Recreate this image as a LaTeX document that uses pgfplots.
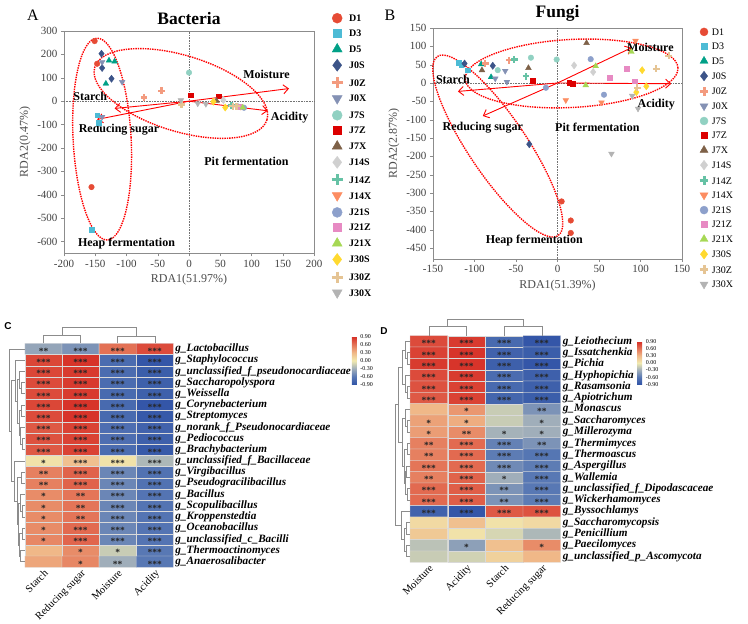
\documentclass[border=0pt]{standalone}
\usepackage{fontspec}
\setmainfont{Liberation Serif}
\newfontfamily\lsans{Liberation Sans}
\usepackage{pgfplots}
\pgfplotsset{compat=1.18}
\usetikzlibrary{shapes.geometric,arrows.meta}

\definecolor{cD1}{HTML}{E64B35}
\definecolor{cD3}{HTML}{4DBBD5}
\definecolor{cD5}{HTML}{00A087}
\definecolor{cJ0S}{HTML}{3C5488}
\definecolor{cJ0Z}{HTML}{F39B7F}
\definecolor{cJ0X}{HTML}{8491B4}
\definecolor{cJ7S}{HTML}{91D1C2}
\definecolor{cJ7Z}{HTML}{DC0000}
\definecolor{cJ7X}{HTML}{7E6148}
\definecolor{cJ14S}{HTML}{D0D0D0}
\definecolor{cJ14Z}{HTML}{66C2A5}
\definecolor{cJ14X}{HTML}{FC8D62}
\definecolor{cJ21S}{HTML}{8DA0CB}
\definecolor{cJ21Z}{HTML}{E78AC3}
\definecolor{cJ21X}{HTML}{A6D854}
\definecolor{cJ30S}{HTML}{FFD92F}
\definecolor{cJ30Z}{HTML}{E5C494}
\definecolor{cJ30X}{HTML}{B3B3B3}

\def\lms{5}
\tikzset{
 ell/.style={draw=red, densely dotted, line width=1.4pt, ellipse, inner sep=0pt},
 ann/.style={font=\bfseries\fontsize{12}{12}\selectfont},
}
\pgfplotsset{
 colormap={hm}{rgb255=(49,84,167) rgb255=(88,120,180) rgb255=(160,174,186) rgb255=(241,234,176) rgb255=(240,184,136) rgb255=(228,117,88) rgb255=(214,47,39)},
 pcirc/.style={only marks, mark=*, mark size=2.8pt, color=#1, legend image post style={mark size={\lms pt}}},
 psq/.style={only marks, mark=square*, mark size=2.4pt, color=#1, legend image post style={mark size={0.8*\lms pt}}},
 ptri/.style={only marks, mark=triangle*, mark size=3.3pt, color=#1, legend image post style={mark size={1.15*\lms pt}}},
 pdtri/.style={only marks, mark=triangle*, mark size=3.3pt, color=#1, mark options={rotate=180}, legend image post style={mark size={1.15*\lms pt}}},
 pdia/.style={only marks, mark=diamond*, mark size=3.6pt, color=#1, legend image post style={mark size={1.2*\lms pt}}},
 pplus/.style={only marks, mark=+, mark size=3.4pt, color=#1, mark options={line width=2.2pt}, legend image post style={mark size={1.1*\lms pt}, mark options={line width=3pt}}},
 rda/.style={scale only axis, clip=false, axis line style={black!45}, tick style={black!45},
   tick align=outside, xtick pos=left, ytick pos=left, major tick length=3pt,
   tick label style={font=\fontsize{11}{11}\selectfont, text=black!75},
   /pgf/number format/assume math mode=true,
   label style={font=\fontsize{12}{12}\selectfont, text=black!70},
   title style={font=\bfseries\fontsize{17.5}{17.5}\selectfont, yshift=-3pt},
   legend cell align=left},
 zl/.style={forget plot, densely dotted, black!55, line width=0.6pt, mark=none},
 arr/.style={forget plot, red, line width=0.9pt, mark=none, -{Straight Barb[length=5pt,width=9pt]}},
 dendro/.style={forget plot, black!45, line width=0.5pt, mark=none},
 hmap/.style={scale only axis, enlargelimits=false, clip=false, xmin=-0.5, xmax=3.5, ymin=-0.5, ymax=19.5, y dir=reverse,
   axis line style={draw=none}, major tick length=0pt, xtick={0,1,2,3}, ytick={0,...,19},
   xticklabel style={rotate=45, anchor=north east, font=\fontsize{10.5}{10.5}\selectfont, inner sep=1pt},
   yticklabel pos=right, yticklabel style={anchor=west, font=\bfseries\itshape\fontsize{11.2}{11.2}\selectfont, inner sep=0pt, xshift=2pt},
   colormap name=hm, point meta min=-0.9, point meta max=0.9},
 cbar/.style={scale only axis, width=5pt, height=#1, ytick={-0.9,-0.6,-0.3,0,0.3,0.6,0.9},
   yticklabel style={font=\fontsize{6}{6}\selectfont, /pgf/number format/.cd, fixed, fixed zerofill, precision=2, assume math mode=true},
   major tick length=0pt, axis line style={draw=none}},
 stars/.style={forget plot, draw=none, mark=none, nodes near coords, point meta=explicit symbolic,
   nodes near coords style={anchor=center, font=\bfseries\fontsize{9.5}{9.5}\selectfont, text=black!85, yshift=-2.2pt, inner sep=0pt}},
}

\begin{document}
\begin{tikzpicture}
\path[use as bounding box] (0pt,0pt) rectangle (748pt,624pt);

% ---------------- Panel A ----------------
\def\lms{5}
\begin{axis}[rda, at={(64pt,593pt)}, anchor=north west, width=250pt, height=222.3pt,
  xmin=-200, xmax=200, ymin=-650, ymax=300,
  xtick={-200,-150,...,200}, ytick={-600,-500,...,300},
  xlabel={RDA1(51.97\%)}, ylabel={RDA2(0.47\%)}, title={Bacteria},
  legend style={at={(1.058,1.09)}, anchor=north west, draw=none, fill=none,
    font=\bfseries\fontsize{10}{10}\selectfont, row sep=6.1pt, column sep=6pt,
    nodes={inner sep=0.5pt, text height=7pt, text depth=0pt}}]
\addplot[zl] coordinates {(0,-650) (0,300)};
\addplot[zl] coordinates {(-200,0) (200,0)};
\addplot[pcirc=cD1] coordinates {(-151,257) (-147,160) (-156,-367)}; \addlegendentry{D1}
\addplot[psq=cD3] coordinates {(-147,-60) (-144,-92) (-156,-550)}; \addlegendentry{D3}
\addplot[ptri=cD5] coordinates {(-128,174) (-119,170) (-133,75)}; \addlegendentry{D5}
\addplot[pdia=cJ0S] coordinates {(-140,203) (-139,142) (-124,96)}; \addlegendentry{J0S}
\addplot[pplus=cJ0Z] coordinates {(-72,16) (-44,44)}; \addlegendentry{J0Z}
\addplot[pdtri=cJ0X] coordinates {(-139,167) (-107,82) (-139,-67)}; \addlegendentry{J0X}
\addplot[pcirc=cJ7S] coordinates {(0,122) (78,-22)}; \addlegendentry{J7S}
\addplot[psq=cJ7Z] coordinates {(3,26) (47,21)}; \addlegendentry{J7Z}
\addplot[ptri=cJ7X] coordinates {(44,2)}; \addlegendentry{J7X}
\addplot[pdia=cJ14S] coordinates {(55,5)}; \addlegendentry{J14S}
\addplot[pplus=cJ14Z] coordinates {(68,-18)}; \addlegendentry{J14Z}
\addplot[pdtri=cJ14X] coordinates {(83,-24)}; \addlegendentry{J14X}
\addplot[pcirc=cJ21S] coordinates {(88,-28)}; \addlegendentry{J21S}
\addplot[psq=cJ21Z] coordinates {(80,-22)}; \addlegendentry{J21Z}
\addplot[ptri=cJ21X] coordinates {(86,-27)}; \addlegendentry{J21X}
\addplot[pdia=cJ30S] coordinates {(39,-2) (58,-27)}; \addlegendentry{J30S}
\addplot[pplus=cJ30Z] coordinates {(-12,-14) (70,-21) (76,-22)}; \addlegendentry{J30Z}
\addplot[pdtri=cJ30X] coordinates {(-13,4) (14,-10) (27,-12)}; \addlegendentry{J30X}
\addplot[arr] coordinates {(0,0) (-119,-31)};
\addplot[arr] coordinates {(0,0) (-147,-78)};
\addplot[arr] coordinates {(0,0) (160,54)};
\addplot[arr] coordinates {(0,0) (126,-41)};
\node[ell, minimum width=58pt, minimum height=202pt, rotate=3] at (axis cs:-139,-162) {};
\node[ell, minimum width=180pt, minimum height=76pt, rotate=-17] at (axis cs:-13,33) {};
\node[ann] at (axis cs:-158,21) {Starch};
\node[ann] at (axis cs:-112,-123) {Reducing sugar};
\node[ann] at (axis cs:124,114) {Moisture};
\node[ann] at (axis cs:161,-69) {Acidity};
\node[ann] at (axis cs:92,-255) {Pit fermentation};
\node[ann] at (axis cs:-100,-608) {Heap fermentation};
\end{axis}

% ---------------- Panel B ----------------
\def\lms{4}
\begin{axis}[rda, at={(433pt,596pt)}, anchor=north west, width=249pt, height=231pt,
  xmin=-150, xmax=150, ymin=-480, ymax=150,
  xtick={-150,-100,...,150}, ytick={-450,-400,...,150},
  xlabel={RDA1(51.39\%)}, ylabel={RDA2(2.87\%)}, title={Fungi},
  legend style={at={(1.058,1.01)}, anchor=north west, draw=none, fill=none,
    font=\fontsize{10}{10}\selectfont, row sep=6.25pt, column sep=3pt,
    nodes={inner sep=0.5pt, text height=7pt, text depth=0pt}}]
\addplot[zl] coordinates {(0,-480) (0,150)};
\addplot[zl] coordinates {(-150,0) (150,0)};
\addplot[pcirc=cD1] coordinates {(5,-323) (16,-375) (16,-409)}; \addlegendentry{D1}
\addplot[psq=cD3] coordinates {(-119,56) (-116,50) (-108,35)}; \addlegendentry{D3}
\addplot[ptri=cD5] coordinates {(-92,51) (-80,16)}; \addlegendentry{D5}
\addplot[pdia=cJ0S] coordinates {(-112,53) (-78,47) (-34,-167)}; \addlegendentry{J0S}
\addplot[pplus=cJ0Z] coordinates {(-87,53) (-58,62)}; \addlegendentry{J0Z}
\addplot[pdtri=cJ0X] coordinates {(-75,12) (-63,33) (-61,3)}; \addlegendentry{J0X}
\addplot[pcirc=cJ7S] coordinates {(-72,35) (-32,69) (-1,64)}; \addlegendentry{J7S}
\addplot[psq=cJ7Z] coordinates {(-30,7) (14,0) (18,-1)}; \addlegendentry{J7Z}
\addplot[ptri=cJ7X] coordinates {(-91,35) (-35,41) (35,109)}; \addlegendentry{J7X}
\addplot[pdia=cJ14S] coordinates {(20,48) (43,30)}; \addlegendentry{J14S}
\addplot[pplus=cJ14Z] coordinates {(-52,64) (-38,18)}; \addlegendentry{J14Z}
\addplot[pdtri=cJ14X] coordinates {(10,-47) (53,-53) (94,115)}; \addlegendentry{J14X}
\addplot[pcirc=cJ21S] coordinates {(-14,-13) (40,65) (56,-32)}; \addlegendentry{J21S}
\addplot[psq=cJ21Z] coordinates {(63,15) (83,39) (93,5)}; \addlegendentry{J21Z}
\addplot[ptri=cJ21X] coordinates {(46,46) (34,-6) (89,85)}; \addlegendentry{J21X}
\addplot[pdia=cJ30S] coordinates {(102,35) (107,-9) (95,-25)}; \addlegendentry{J30S}
\addplot[pplus=cJ30Z] coordinates {(119,39) (134,74) (96,-13)}; \addlegendentry{J30Z}
\addplot[pdtri=cJ30X] coordinates {(90,-35) (97,-70) (65,-193)}; \addlegendentry{J30X}
\addplot[arr] coordinates {(0,0) (-120,-23)};
\addplot[arr] coordinates {(0,0) (-90,-90)};
\addplot[arr] coordinates {(0,0) (89,96)};
\addplot[arr] coordinates {(0,0) (137,-2)};
\node[ell, minimum width=213pt, minimum height=68pt, rotate=3] at (axis cs:17,26) {};
\node[ell, minimum width=58pt, minimum height=216pt, rotate=34] at (axis cs:-72,-172) {};
\node[ann] at (axis cs:-126,9) {Starch};
\node[ann] at (axis cs:-90,-122) {Reducing sugar};
\node[ann] at (axis cs:112,97) {Moisture};
\node[ann] at (axis cs:119,-58) {Acidity};
\node[ann] at (axis cs:48,-120) {Pit fermentation};
\node[ann] at (axis cs:-28,-430) {Heap fermentation};
\end{axis}

\node[font=\fontsize{16}{16}\selectfont] at (33pt,609pt) {A};
\node[font=\fontsize{16}{16}\selectfont] at (390pt,609pt) {B};
\node[font=\lsans\bfseries\fontsize{10}{10}\selectfont] at (8pt,298pt) {C};
\node[font=\lsans\bfseries\fontsize{10}{10}\selectfont] at (384pt,293pt) {D};

% ---------------- Panel C ----------------
\begin{axis}[hmap, at={(25pt,280.7pt)}, anchor=north west, width=148.3pt, height=224pt,
  xticklabels={Starch,Reducing sugar,Moisture,Acidity},
  yticklabels={g\_Lactobacillus,g\_Staphylococcus,g\_unclassified\_f\_pseudonocardiaceae,g\_Saccharopolyspora,g\_Weissella,g\_Corynebacterium,g\_Streptomyces,g\_norank\_f\_Pseudonocardiaceae,g\_Pediococcus,g\_Brachybacterium,g\_unclassified\_f\_Bacillaceae,g\_Virgibacillus,g\_Pseudogracilibacillus,g\_Bacillus,g\_Scopulibacillus,g\_Kroppenstedtia,g\_Oceanobacillus,g\_unclassified\_c\_Bacilli,g\_Thermoactinomyces,g\_Anaerosalibacter},
  colorbar, colorbar style={cbar=48pt, at={(parent axis.north east)}, anchor=north west, xshift=170pt, yshift=6.6pt}]
\addplot[matrix plot*, mesh/cols=4, point meta=explicit, draw=white!85!black, line width=0.3pt] table[meta=c] {
x y c
0 0 -0.35
1 0 -0.45
2 0 0.62
3 0 0.78
0 1 0.80
1 1 0.88
2 1 -0.70
3 1 -0.88
0 2 0.80
1 2 0.85
2 2 -0.70
3 2 -0.82
0 3 0.78
1 3 0.85
2 3 -0.70
3 3 -0.80
0 4 0.78
1 4 0.85
2 4 -0.72
3 4 -0.80
0 5 0.80
1 5 0.88
2 5 -0.72
3 5 -0.88
0 6 0.78
1 6 0.88
2 6 -0.72
3 6 -0.86
0 7 0.72
1 7 0.82
2 7 -0.68
3 7 -0.78
0 8 0.75
1 8 0.82
2 8 -0.68
3 8 -0.80
0 9 0.72
1 9 0.82
2 9 -0.70
3 9 -0.85
0 10 0.05
1 10 0.25
2 10 0.05
3 10 -0.25
0 11 0.55
1 11 0.68
2 11 -0.52
3 11 -0.65
0 12 0.55
1 12 0.68
2 12 -0.52
3 12 -0.65
0 13 0.50
1 13 0.60
2 13 -0.52
3 13 -0.63
0 14 0.50
1 14 0.60
2 14 -0.52
3 14 -0.63
0 15 0.50
1 15 0.60
2 15 -0.52
3 15 -0.63
0 16 0.50
1 16 0.65
2 16 -0.52
3 16 -0.63
0 17 0.52
1 17 0.67
2 17 -0.52
3 17 -0.63
0 18 0.30
1 18 0.50
2 18 -0.15
3 18 -0.60
0 19 0.38
1 19 0.52
2 19 -0.30
3 19 -0.60
};
\addplot[stars] table[x=x, y=y, meta=s] {
x y s
0 0 **
1 0 ***
2 0 ***
3 0 ***
0 1 ***
1 1 ***
2 1 ***
3 1 ***
0 2 ***
1 2 ***
2 2 ***
3 2 ***
0 3 ***
1 3 ***
2 3 ***
3 3 ***
0 4 ***
1 4 ***
2 4 ***
3 4 ***
0 5 ***
1 5 ***
2 5 ***
3 5 ***
0 6 ***
1 6 ***
2 6 ***
3 6 ***
0 7 ***
1 7 ***
2 7 ***
3 7 ***
0 8 ***
1 8 ***
2 8 ***
3 8 ***
0 9 ***
1 9 ***
2 9 ***
3 9 ***
0 10 *
1 10 ***
2 10 ***
3 10 ***
0 11 **
1 11 ***
2 11 ***
3 11 ***
0 12 **
1 12 ***
2 12 ***
3 12 ***
0 13 *
1 13 **
2 13 ***
3 13 ***
0 14 *
1 14 **
2 14 ***
3 14 ***
0 15 *
1 15 **
2 15 ***
3 15 ***
0 16 *
1 16 ***
2 16 ***
3 16 ***
0 17 *
1 17 ***
2 17 ***
3 17 ***
1 18 *
2 18 *
3 18 ***
1 19 *
2 19 **
3 19 ***
};
% column dendrogram
\addplot[dendro] coordinates {(0,-0.5) (0,-1.24) (1,-1.24) (1,-0.5)};
\addplot[dendro] coordinates {(2,-0.5) (2,-1.1) (3,-1.1) (3,-0.5)};
\addplot[dendro] coordinates {(0.5,-1.24) (0.5,-1.95) (2.5,-1.95) (2.5,-1.1)};
% row dendrogram
\addplot[dendro] coordinates {(-0.5,3) (-0.6,3) (-0.6,4) (-0.5,4)};
\addplot[dendro] coordinates {(-0.5,2) (-0.65,2) (-0.65,3.5) (-0.6,3.5)};
\addplot[dendro] coordinates {(-0.5,5) (-0.6,5) (-0.6,6) (-0.5,6)};
\addplot[dendro] coordinates {(-0.5,8) (-0.57,8) (-0.57,9) (-0.5,9)};
\addplot[dendro] coordinates {(-0.5,7) (-0.62,7) (-0.62,8.5) (-0.57,8.5)};
\addplot[dendro] coordinates {(-0.6,5.5) (-0.66,5.5) (-0.66,7.75) (-0.62,7.75)};
\addplot[dendro] coordinates {(-0.65,2.75) (-0.7,2.75) (-0.7,6.625) (-0.66,6.625)};
\addplot[dendro] coordinates {(-0.5,1) (-0.76,1) (-0.76,4.6875) (-0.7,4.6875)};
\addplot[dendro] coordinates {(-0.5,11) (-0.6,11) (-0.6,12) (-0.5,12)};
\addplot[dendro] coordinates {(-0.5,14) (-0.57,14) (-0.57,15) (-0.5,15)};
\addplot[dendro] coordinates {(-0.5,13) (-0.62,13) (-0.62,14.5) (-0.57,14.5)};
\addplot[dendro] coordinates {(-0.5,16) (-0.58,16) (-0.58,17) (-0.5,17)};
\addplot[dendro] coordinates {(-0.5,18) (-0.62,18) (-0.62,19) (-0.5,19)};
\addplot[dendro] coordinates {(-0.58,16.5) (-0.66,16.5) (-0.66,18.5) (-0.62,18.5)};
\addplot[dendro] coordinates {(-0.62,13.75) (-0.69,13.75) (-0.69,17.5) (-0.66,17.5)};
\addplot[dendro] coordinates {(-0.6,11.5) (-0.72,11.5) (-0.72,15.625) (-0.69,15.625)};
\addplot[dendro] coordinates {(-0.5,10) (-0.8,10) (-0.8,13.5625) (-0.72,13.5625)};
\addplot[dendro] coordinates {(-0.76,2.84) (-0.88,2.84) (-0.88,11.78) (-0.8,11.78)};
\addplot[dendro] coordinates {(-0.5,0) (-0.93,0) (-0.93,7.31) (-0.88,7.31)};
\end{axis}

% ---------------- Panel D ----------------
\begin{axis}[hmap, at={(410pt,288.3pt)}, anchor=north west, width=150.7pt, height=226.6pt,
  xticklabels={Moisture,Acidity,Starch,Reducing sugar},
  yticklabels={g\_Leiothecium,g\_Issatchenkia,g\_Pichia,g\_Hyphopichia,g\_Rasamsonia,g\_Apiotrichum,g\_Monascus,g\_Saccharomyces,g\_Millerozyma,g\_Thermimyces,g\_Thermoascus,g\_Aspergillus,g\_Wallemia,g\_unclassified\_f\_Dipodascaceae,g\_Wickerhamomyces,g\_Byssochlamys,g\_Saccharomycopsis,g\_Penicillium,g\_Paecilomyces,g\_unclassified\_p\_Ascomycota},
  colorbar, colorbar style={cbar=42.5pt, at={(parent axis.north east)}, anchor=north west, xshift=68pt, yshift=-6pt}]
\addplot[matrix plot*, mesh/cols=4, point meta=explicit, draw=white!85!black, line width=0.3pt] table[meta=c] {
x y c
0 0 0.78
1 0 0.85
2 0 -0.72
3 0 -0.88
0 1 0.82
1 1 0.88
2 1 -0.78
3 1 -0.82
0 2 0.85
1 2 0.88
2 2 -0.80
3 2 -0.88
0 3 0.78
1 3 0.85
2 3 -0.70
3 3 -0.80
0 4 0.75
1 4 0.82
2 4 -0.72
3 4 -0.80
0 5 0.72
1 5 0.82
2 5 -0.75
3 5 -0.82
0 6 0.30
1 6 0.45
2 6 -0.15
3 6 -0.45
0 7 0.40
1 7 0.35
2 7 -0.15
3 7 -0.30
0 8 0.42
1 8 0.50
2 8 -0.28
3 8 -0.30
0 9 0.55
1 9 0.65
2 9 -0.55
3 9 -0.45
0 10 0.55
1 10 0.65
2 10 -0.58
3 10 -0.62
0 11 0.60
1 11 0.65
2 11 -0.50
3 11 -0.58
0 12 0.55
1 12 0.68
2 12 -0.30
3 12 -0.60
0 13 0.65
1 13 0.70
2 13 -0.45
3 13 -0.60
0 14 0.65
1 14 0.70
2 14 -0.45
3 14 -0.58
0 15 -0.78
1 15 -0.88
2 15 0.72
3 15 0.75
0 16 0.10
1 16 0.25
2 16 0.05
3 16 0.10
0 17 0.20
1 17 0.05
2 17 -0.10
3 17 -0.25
0 18 -0.20
1 18 -0.38
2 18 0.25
3 18 0.50
0 19 -0.15
1 19 -0.12
2 19 0.15
3 19 0.30
};
\addplot[stars] table[x=x, y=y, meta=s] {
x y s
0 0 ***
1 0 ***
2 0 ***
3 0 ***
0 1 ***
1 1 ***
2 1 ***
3 1 ***
0 2 ***
1 2 ***
2 2 ***
3 2 ***
0 3 ***
1 3 ***
2 3 ***
3 3 ***
0 4 ***
1 4 ***
2 4 ***
3 4 ***
0 5 ***
1 5 ***
2 5 ***
3 5 ***
1 6 *
3 6 **
0 7 *
1 7 *
3 7 *
0 8 *
1 8 **
2 8 *
3 8 *
0 9 **
1 9 ***
2 9 ***
3 9 **
0 10 **
1 10 ***
2 10 ***
3 10 ***
0 11 ***
1 11 ***
2 11 ***
3 11 ***
0 12 **
1 12 ***
2 12 *
3 12 ***
0 13 ***
1 13 ***
2 13 **
3 13 ***
0 14 ***
1 14 ***
2 14 **
3 14 ***
0 15 ***
1 15 ***
2 15 ***
3 15 ***
1 18 *
3 18 *
};
% column dendrogram
\addplot[dendro] coordinates {(0,-0.5) (0,-1.36) (1,-1.36) (1,-0.5)};
\addplot[dendro] coordinates {(2,-0.5) (2,-1.36) (3,-1.36) (3,-0.5)};
\addplot[dendro] coordinates {(0.5,-1.36) (0.5,-1.95) (2.5,-1.95) (2.5,-1.36)};
% row dendrogram
\addplot[dendro] coordinates {(-0.5,1) (-0.58,1) (-0.58,2) (-0.5,2)};
\addplot[dendro] coordinates {(-0.5,0) (-0.63,0) (-0.63,1.5) (-0.58,1.5)};
\addplot[dendro] coordinates {(-0.5,4) (-0.58,4) (-0.58,5) (-0.5,5)};
\addplot[dendro] coordinates {(-0.5,3) (-0.62,3) (-0.62,4.5) (-0.58,4.5)};
\addplot[dendro] coordinates {(-0.63,0.75) (-0.7,0.75) (-0.7,3.75) (-0.62,3.75)};
\addplot[dendro] coordinates {(-0.5,7) (-0.58,7) (-0.58,8) (-0.5,8)};
\addplot[dendro] coordinates {(-0.5,6) (-0.63,6) (-0.63,7.5) (-0.58,7.5)};
\addplot[dendro] coordinates {(-0.5,9) (-0.58,9) (-0.58,10) (-0.5,10)};
\addplot[dendro] coordinates {(-0.5,11) (-0.6,11) (-0.6,12) (-0.5,12)};
\addplot[dendro] coordinates {(-0.5,13) (-0.57,13) (-0.57,14) (-0.5,14)};
\addplot[dendro] coordinates {(-0.6,11.5) (-0.63,11.5) (-0.63,13.5) (-0.57,13.5)};
\addplot[dendro] coordinates {(-0.58,9.5) (-0.66,9.5) (-0.66,12.5) (-0.63,12.5)};
\addplot[dendro] coordinates {(-0.63,6.75) (-0.7,6.75) (-0.7,11) (-0.66,11)};
\addplot[dendro] coordinates {(-0.7,2.25) (-0.8,2.25) (-0.8,8.875) (-0.7,8.875)};
\addplot[dendro] coordinates {(-0.5,16) (-0.6,16) (-0.6,17) (-0.5,17)};
\addplot[dendro] coordinates {(-0.5,18) (-0.6,18) (-0.6,19) (-0.5,19)};
\addplot[dendro] coordinates {(-0.6,16.5) (-0.66,16.5) (-0.66,18.5) (-0.6,18.5)};
\addplot[dendro] coordinates {(-0.5,15) (-0.72,15) (-0.72,17.5) (-0.66,17.5)};
\addplot[dendro] coordinates {(-0.8,5.56) (-0.9,5.56) (-0.9,16.25) (-0.72,16.25)};
\end{axis}
\end{tikzpicture}
\end{document}
